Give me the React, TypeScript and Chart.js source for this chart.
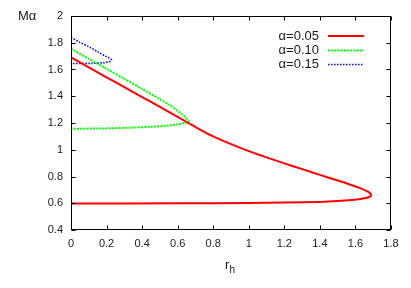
import { useEffect, useRef } from "react";
import { Chart, registerables } from "chart.js";

Chart.register(...registerables);

// alpha = 0.05 (upper branch to the turning point, then lower branch back)
const R05 = [0, 0.1, 0.2, 0.3, 0.4, 0.5, 0.6, 0.66, 0.72, 0.8, 0.9, 1.0, 1.1, 1.2, 1.3, 1.4, 1.5, 1.58, 1.63, 1.665, 1.683, 1.689, 1.684, 1.665, 1.63, 1.58, 1.5, 1.4, 1.2, 1.0, 0.6, 0];
const M05 = [1.69, 1.616, 1.542, 1.468, 1.394, 1.32, 1.245, 1.2, 1.155, 1.1, 1.042, 0.99, 0.943, 0.898, 0.855, 0.812, 0.77, 0.735, 0.711, 0.69, 0.675, 0.663, 0.651, 0.641, 0.632, 0.624, 0.616, 0.61, 0.605, 0.602, 0.6, 0.598];
// alpha = 0.10
const R10 = [0, 0.1, 0.2, 0.3, 0.4, 0.5, 0.56, 0.6, 0.63, 0.65, 0.663, 0.66, 0.64, 0.6, 0.53, 0.45, 0.35, 0.2, 0];
const M10 = [1.755, 1.68, 1.605, 1.53, 1.455, 1.378, 1.33, 1.29, 1.26, 1.232, 1.21, 1.205, 1.2, 1.19, 1.178, 1.172, 1.166, 1.16, 1.157];
// alpha = 0.15
const R15 = [0, 0.05, 0.1, 0.15, 0.2, 0.22, 0.228, 0.222, 0.21, 0.18, 0.12, 0];
const M15 = [1.838, 1.803, 1.77, 1.733, 1.695, 1.683, 1.672, 1.662, 1.657, 1.65, 1.646, 1.645];

const SERIES_LABELS = ["\u03b1=0.05", "\u03b1=0.10", "\u03b1=0.15"];
const SERIES_COLORS = ["#ff0000", "#00ff00", "#0000ff"];

const X_TICKS = [0, 0.2, 0.4, 0.6, 0.8, 1.0, 1.2, 1.4, 1.6, 1.8];
const Y_TICKS = [0.4, 0.6, 0.8, 1.0, 1.2, 1.4, 1.6, 1.8, 2.0];

const FONT = "'Liberation Sans', Arial, sans-serif";
const TEXT = "#1a1a1a";

const fmt = (v: number) => String(Number(v.toFixed(1)));

export default function App() {
  const ref = useRef<HTMLCanvasElement>(null);

  useEffect(() => {
    document.body.style.margin = "0";
    const pts = (xs: number[], ys: number[]) => xs.map((x, i) => ({ x, y: ys[i] }));
    const dashes = [[], [2, 1.2], [1.5, 1.5]];
    const widths = [2, 2, 1.6];

    const frame = {
      id: "frame",
      afterDraw(chart: any) {
        const ctx = chart.ctx as CanvasRenderingContext2D;
        const { left, right, top, bottom } = chart.chartArea;
        const xs = chart.scales.x;
        const ys = chart.scales.y;
        ctx.save();
        ctx.strokeStyle = "#000";
        ctx.lineWidth = 1;
        const L = Math.round(left) + 0.5;
        const R = Math.round(right) - 0.5;
        const T = Math.round(top) + 0.5;
        const B = Math.round(bottom) - 0.5;
        ctx.strokeRect(L, T, R - L, B - T);
        const tl = 4;
        ctx.beginPath();
        X_TICKS.forEach((v) => {
          const px = Math.round(xs.getPixelForValue(v)) + 0.5;
          ctx.moveTo(px, B); ctx.lineTo(px, B - tl);
          ctx.moveTo(px, T); ctx.lineTo(px, T + tl);
        });
        Y_TICKS.forEach((v) => {
          const py = Math.round(ys.getPixelForValue(v)) + 0.5;
          ctx.moveTo(L, py); ctx.lineTo(L + tl, py);
          ctx.moveTo(R, py); ctx.lineTo(R - tl, py);
        });
        ctx.stroke();

        // axis titles
        ctx.fillStyle = TEXT;
        ctx.textBaseline = "middle";
        ctx.textAlign = "left";
        ctx.font = `13px ${FONT}`;
        ctx.fillText("M\u03b1", 18, 16);
        ctx.textBaseline = "alphabetic";
        ctx.font = `13px ${FONT}`;
        ctx.fillText("r", 225, 269);
        ctx.font = `10px ${FONT}`;
        ctx.fillText("h", 229.5, 273);

        // legend
        ctx.font = `13px ${FONT}`;
        ctx.textAlign = "right";
        ctx.textBaseline = "middle";
        const ly = [36, 50.5, 64.5];
        SERIES_LABELS.forEach((lab, i) => {
          ctx.fillStyle = TEXT;
          ctx.fillText(lab, 319, ly[i]);
          ctx.strokeStyle = SERIES_COLORS[i];
          ctx.lineWidth = widths[i];
          ctx.setLineDash(dashes[i]);
          ctx.beginPath();
          ctx.moveTo(328, ly[i]);
          ctx.lineTo(364, ly[i]);
          ctx.stroke();
        });
        ctx.restore();
      },
    };

    const series = [pts(R05, M05), pts(R10, M10), pts(R15, M15)];

    const chart = new Chart(ref.current as HTMLCanvasElement, {
      type: "scatter",
      data: {
        datasets: series.map((d, i) => ({
          label: SERIES_LABELS[i],
          data: d,
          showLine: true,
          borderColor: SERIES_COLORS[i],
          backgroundColor: SERIES_COLORS[i],
          borderWidth: widths[i],
          borderDash: dashes[i],
          pointRadius: 0,
          tension: 0.3,
          fill: false,
        })),
      },
      options: {
        responsive: false,
        animation: false,
        events: [],
        layout: { padding: { top: 16, right: 20, left: 0, bottom: 0 } },
        plugins: {
          legend: { display: false },
          tooltip: { enabled: false },
          title: { display: false },
        },
        scales: {
          x: {
            type: "linear",
            min: 0,
            max: 1.8,
            afterBuildTicks: (s: any) => {
              s.ticks = X_TICKS.map((value) => ({ value }));
            },
            afterFit: (s: any) => {
              s.height = 58;
            },
            grid: { display: false, drawTicks: false },
            border: { display: false },
            ticks: {
              autoSkip: false,
              maxRotation: 0,
              padding: 7,
              color: TEXT,
              font: { family: FONT, size: 11 },
              callback: (v: any) => fmt(Number(v)),
            },
          },
          y: {
            type: "linear",
            min: 0.4,
            max: 2,
            afterBuildTicks: (s: any) => {
              s.ticks = Y_TICKS.map((value) => ({ value }));
            },
            afterFit: (s: any) => {
              s.width = 71;
            },
            grid: { display: false, drawTicks: false },
            border: { display: false },
            ticks: {
              autoSkip: false,
              padding: 8,
              color: TEXT,
              font: { family: FONT, size: 11 },
              callback: (v: any) => fmt(Number(v)),
            },
          },
        },
      },
      plugins: [frame],
    });
    return () => chart.destroy();
  }, []);

  return (
    <div style={{ width: 411, height: 288 }}>
      <canvas ref={ref} width={411} height={288} style={{ display: "block" }} />
    </div>
  );
}
